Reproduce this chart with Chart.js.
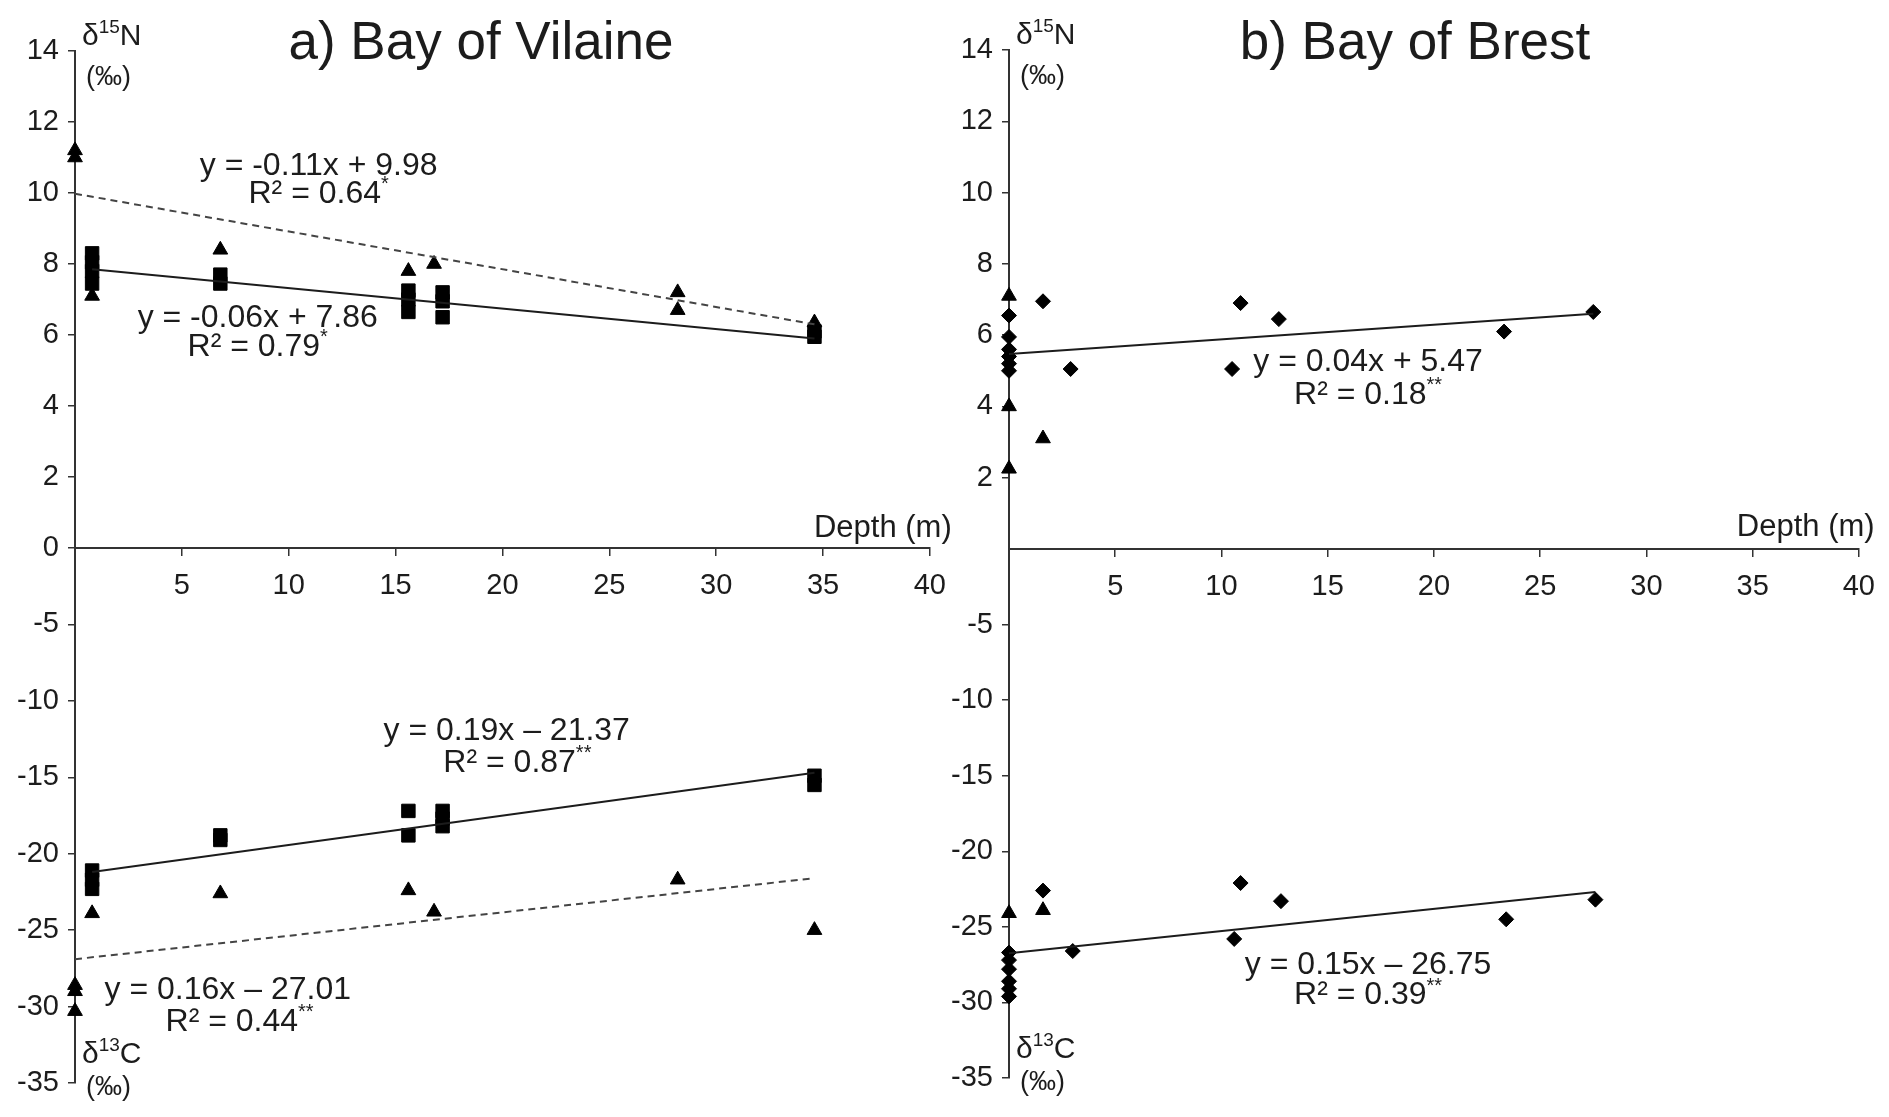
<!DOCTYPE html>
<html>
<head>
<meta charset="utf-8">
<script src="https://cdn.jsdelivr.net/npm/chart.js@4.4.1/dist/chart.umd.min.js"></script>
<style>
  html, body { margin: 0; padding: 0; background: #fff; }
  #wrap { position: relative; width: 1889px; height: 1117px; overflow: hidden; background: #fff; }
  canvas { position: absolute; top: 0; }
  #vilaine { left: 0; }
  #brest { left: 944px; }
</style>
</head>
<body>
<div id="wrap">
  <canvas id="vilaine" width="960" height="1117"></canvas>
  <canvas id="brest" width="945" height="1117"></canvas>
</div>
<script>
// ============================================================
// Depth vs d15N / d13C — two panels, stacked y scales
// ============================================================

// --- tick labels ---
const depthTicks = [5, 10, 15, 20, 25, 30, 35, 40];
const n15TicksVilaine = [0, 2, 4, 6, 8, 10, 12, 14];
const n15TicksBrest = [2, 4, 6, 8, 10, 12, 14];
const c13Ticks = [-35, -30, -25, -20, -15, -10, -5];

// --- a) Bay of Vilaine ---
const vilN15SqDepth = [0.8, 0.8, 0.8, 0.8, 6.8, 6.8, 15.6, 15.6, 15.6, 17.2, 17.2, 17.2, 34.6, 34.6];
const vilN15SqVal   = [8.3, 8.05, 7.8, 7.45, 7.7, 7.45, 7.25, 7.0, 6.65, 7.2, 6.95, 6.5, 6.1, 5.95];
const vilN15TriDepth = [0, 0, 0.8, 6.8, 15.6, 16.8, 28.2, 28.2, 34.6];
const vilN15TriVal   = [11.2, 11.0, 7.1, 8.4, 7.8, 8.0, 7.2, 6.7, 6.35];
const vilN15SqFitDepth = [0.8, 34.6];
const vilN15SqFitVal   = [7.85, 5.9];
const vilN15TriFitDepth = [0, 34.6];
const vilN15TriFitVal   = [9.98, 6.3];

const vilC13SqDepth = [0.8, 0.8, 0.8, 6.8, 6.8, 15.6, 15.6, 17.2, 17.2, 17.2, 34.6, 34.6];
const vilC13SqVal   = [-21.1, -21.7, -22.3, -18.8, -19.1, -17.2, -18.8, -17.2, -17.7, -18.2, -14.9, -15.5];
const vilC13TriDepth = [0, 0, 0, 0.8, 6.8, 15.6, 16.8, 28.2, 34.6];
const vilC13TriVal   = [-28.6, -29.0, -30.3, -23.9, -22.6, -22.4, -23.8, -21.7, -25.0];
const vilC13SqFitDepth = [0.8, 34.6];
const vilC13SqFitVal   = [-21.2, -14.7];
const vilC13TriFitDepth = [0, 34.6];
const vilC13TriFitVal   = [-26.9, -21.6];

// --- b) Bay of Brest ---
const brN15DiaDepth = [0, 0, 0, 0, 0, 0, 1.6, 2.9, 10.5, 10.9, 12.7, 23.3, 27.5];
const brN15DiaVal   = [6.55, 5.95, 5.6, 5.4, 5.2, 5.0, 6.95, 5.05, 5.05, 6.9, 6.45, 6.1, 6.65];
const brN15TriDepth = [0, 0, 0, 1.6];
const brN15TriVal   = [7.1, 4.0, 2.25, 3.1];
const brN15FitDepth = [0, 27.5];
const brN15FitVal   = [5.47, 6.6];

const brC13DiaDepth = [0, 0, 0, 0, 0, 0, 1.6, 3.0, 10.6, 10.9, 12.8, 23.4, 27.6];
const brC13DiaVal   = [-26.7, -27.2, -27.8, -28.6, -29.1, -29.6, -22.6, -26.6, -25.8, -22.1, -23.3, -24.5, -23.2];
const brC13TriDepth = [0, 1.6];
const brC13TriVal   = [-24.1, -23.9];
const brC13FitDepth = [0, 27.6];
const brC13FitVal   = [-26.75, -22.7];

const FONT = "'Liberation Sans', Arial, sans-serif";
const INK = '#1c1c1c';

function pts(xs, ys) { return xs.map((x, i) => ({x, y: ys[i]})); }

function marks(xs, ys, style, axis) {
  const radius = {rect: 9.5, triangle: 8.5, rectRot: 7.5}[style];
  return {
    type: 'scatter', data: pts(xs, ys), yAxisID: axis, clip: false,
    pointStyle: style, pointRadius: radius, pointHoverRadius: radius,
    backgroundColor: '#000', borderColor: '#000', borderWidth: 1,
  };
}

function fit(xs, ys, dashed, axis) {
  return {
    type: 'line', data: pts(xs, ys), yAxisID: axis, clip: false,
    borderColor: dashed ? '#444' : INK, borderWidth: 2,
    borderDash: dashed ? [7, 5] : [], pointRadius: 0, tension: 0,
  };
}

// draws a string with optional raised small parts
function drawRich(ctx, parts, x, y, size, align) {
  const small = Math.round(size * 0.62);
  const widths = parts.map(p => {
    ctx.font = `${p.sup ? small : size}px ${FONT}`;
    return ctx.measureText(p.t).width;
  });
  const total = widths.reduce((a, b) => a + b, 0);
  let cx = align === 'center' ? x - total / 2 : x;
  ctx.textAlign = 'left';
  parts.forEach((p, i) => {
    ctx.font = `${p.sup ? small : size}px ${FONT}`;
    ctx.fillText(p.t, cx, p.sup ? y - size * 0.3 : y);
    cx += widths[i];
  });
}

const notesPlugin = {
  id: 'panelNotes',
  afterDraw(chart, args, opts) {
    const {ctx, chartArea, scales} = chart;
    ctx.save();
    ctx.fillStyle = INK;
    ctx.textBaseline = 'middle';
    drawRich(ctx, [{t: opts.title}], chartArea.left + 406, 44, 53, 'center');
    opts.notes.forEach(n => {
      const px = scales.x.getPixelForValue(n.x);
      const py = scales[n.axis].getPixelForValue(n.y);
      drawRich(ctx, n.parts, px, py, n.size || 32, 'center');
    });
    const ax = chartArea.left;
    drawRich(ctx, [{t: 'δ'}, {t: '15', sup: true}, {t: 'N'}], ax + 7, chartArea.top - 14, 30, 'left');
    drawRich(ctx, [{t: '(‰)'}], ax + 11, chartArea.top + 27, 27, 'left');
    drawRich(ctx, [{t: 'δ'}, {t: '13', sup: true}, {t: 'C'}], ax + 7, chartArea.bottom - 28, 30, 'left');
    drawRich(ctx, [{t: '(‰)'}], ax + 11, chartArea.bottom + 5, 27, 'left');
    ctx.restore();
  }
};

function yScale(min, max, ticks, weight, order, axisW) {
  return {
    type: 'linear', position: 'left', stack: 'iso', stackWeight: weight, weight: order,
    min, max,
    afterBuildTicks: s => { s.ticks = ticks.map(v => ({value: v})); },
    afterFit: s => { s.width = axisW; },
    grid: { drawOnChartArea: false, drawTicks: true, tickLength: 7, color: '#333', lineWidth: 1.5 },
    border: { color: '#333', width: 2 },
    ticks: { color: INK, font: { family: FONT, size: 29 }, padding: 9, autoSkip: false },
  };
}

function makePanel(canvasId, p) {
  const ctx = document.getElementById(canvasId);
  return new Chart(ctx, {
    data: { datasets: p.datasets },
    options: {
      responsive: false, animation: false,
      layout: { padding: p.padding },
      plugins: {
        legend: { display: false }, tooltip: { enabled: false },
        panelNotes: { title: p.title, notes: p.notes },
      },
      scales: {
        x: {
          type: 'linear', position: { yN: 0 }, min: 0, max: 40,
          afterBuildTicks: s => { s.ticks = depthTicks.map(v => ({value: v})); },
          grid: { drawOnChartArea: false, drawTicks: true, tickLength: 7, color: '#333', lineWidth: 1.5 },
          border: { color: '#333', width: 2 },
          ticks: { color: INK, font: { family: FONT, size: 29 }, padding: 14, maxRotation: 0, autoSkip: false },
        },
        yN: yScale(0, 14, p.n15Ticks, p.weights[0], 2, p.axisW),
        yC: yScale(-35, 0, c13Ticks, p.weights[1], 1, p.axisW),
      }
    },
    plugins: [notesPlugin]
  });
}

makePanel('vilaine', {
  title: 'a) Bay of Vilaine',
  axisW: 75, padding: { top: 51, right: 29, bottom: 34, left: 0 }, weights: [497, 535],
  n15Ticks: n15TicksVilaine,
  datasets: [
    fit(vilN15TriFitDepth, vilN15TriFitVal, true, 'yN'),
    fit(vilN15SqFitDepth, vilN15SqFitVal, false, 'yN'),
    fit(vilC13TriFitDepth, vilC13TriFitVal, true, 'yC'),
    fit(vilC13SqFitDepth, vilC13SqFitVal, false, 'yC'),
    marks(vilN15SqDepth, vilN15SqVal, 'rect', 'yN'),
    marks(vilN15TriDepth, vilN15TriVal, 'triangle', 'yN'),
    marks(vilC13SqDepth, vilC13SqVal, 'rect', 'yC'),
    marks(vilC13TriDepth, vilC13TriVal, 'triangle', 'yC'),
  ],
  notes: [
    { x: 11.4, y: 10.76, axis: 'yN', parts: [{t: 'y = -0.11x + 9.98'}] },
    { x: 11.4, y: 9.97, axis: 'yN', parts: [{t: 'R² = 0.64'}, {t: '*', sup: true}] },
    { x: 8.55, y: 6.48, axis: 'yN', parts: [{t: 'y = -0.06x + 7.86'}] },
    { x: 8.55, y: 5.66, axis: 'yN', parts: [{t: 'R² = 0.79'}, {t: '*', sup: true}] },
    { x: 20.2, y: -12.0, axis: 'yC', parts: [{t: 'y = 0.19x – 21.37'}] },
    { x: 20.7, y: -14.05, axis: 'yC', parts: [{t: 'R² = 0.87'}, {t: '**', sup: true}] },
    { x: 7.15, y: -28.95, axis: 'yC', parts: [{t: 'y = 0.16x – 27.01'}] },
    { x: 7.7, y: -31.0, axis: 'yC', parts: [{t: 'R² = 0.44'}, {t: '**', sup: true}] },
    { x: 37.8, y: 0.56, axis: 'yN', size: 31, parts: [{t: 'Depth (m)'}] },
  ],
});

makePanel('brest', {
  title: 'b) Bay of Brest',
  axisW: 65, padding: { top: 50, right: 28, bottom: 39, left: 0 }, weights: [499, 529],
  n15Ticks: n15TicksBrest,
  datasets: [
    fit(brN15FitDepth, brN15FitVal, false, 'yN'),
    fit(brC13FitDepth, brC13FitVal, false, 'yC'),
    marks(brN15DiaDepth, brN15DiaVal, 'rectRot', 'yN'),
    marks(brN15TriDepth, brN15TriVal, 'triangle', 'yN'),
    marks(brC13DiaDepth, brC13DiaVal, 'rectRot', 'yC'),
    marks(brC13TriDepth, brC13TriVal, 'triangle', 'yC'),
  ],
  notes: [
    { x: 16.9, y: 5.24, axis: 'yN', parts: [{t: 'y = 0.04x + 5.47'}] },
    { x: 16.9, y: 4.31, axis: 'yN', parts: [{t: 'R² = 0.18'}, {t: '**', sup: true}] },
    { x: 16.9, y: -27.55, axis: 'yC', parts: [{t: 'y = 0.15x – 26.75'}] },
    { x: 16.9, y: -29.55, axis: 'yC', parts: [{t: 'R² = 0.39'}, {t: '**', sup: true}] },
    { x: 37.5, y: 0.6, axis: 'yN', size: 31, parts: [{t: 'Depth (m)'}] },
  ],
});
</script>
</body>
</html>
